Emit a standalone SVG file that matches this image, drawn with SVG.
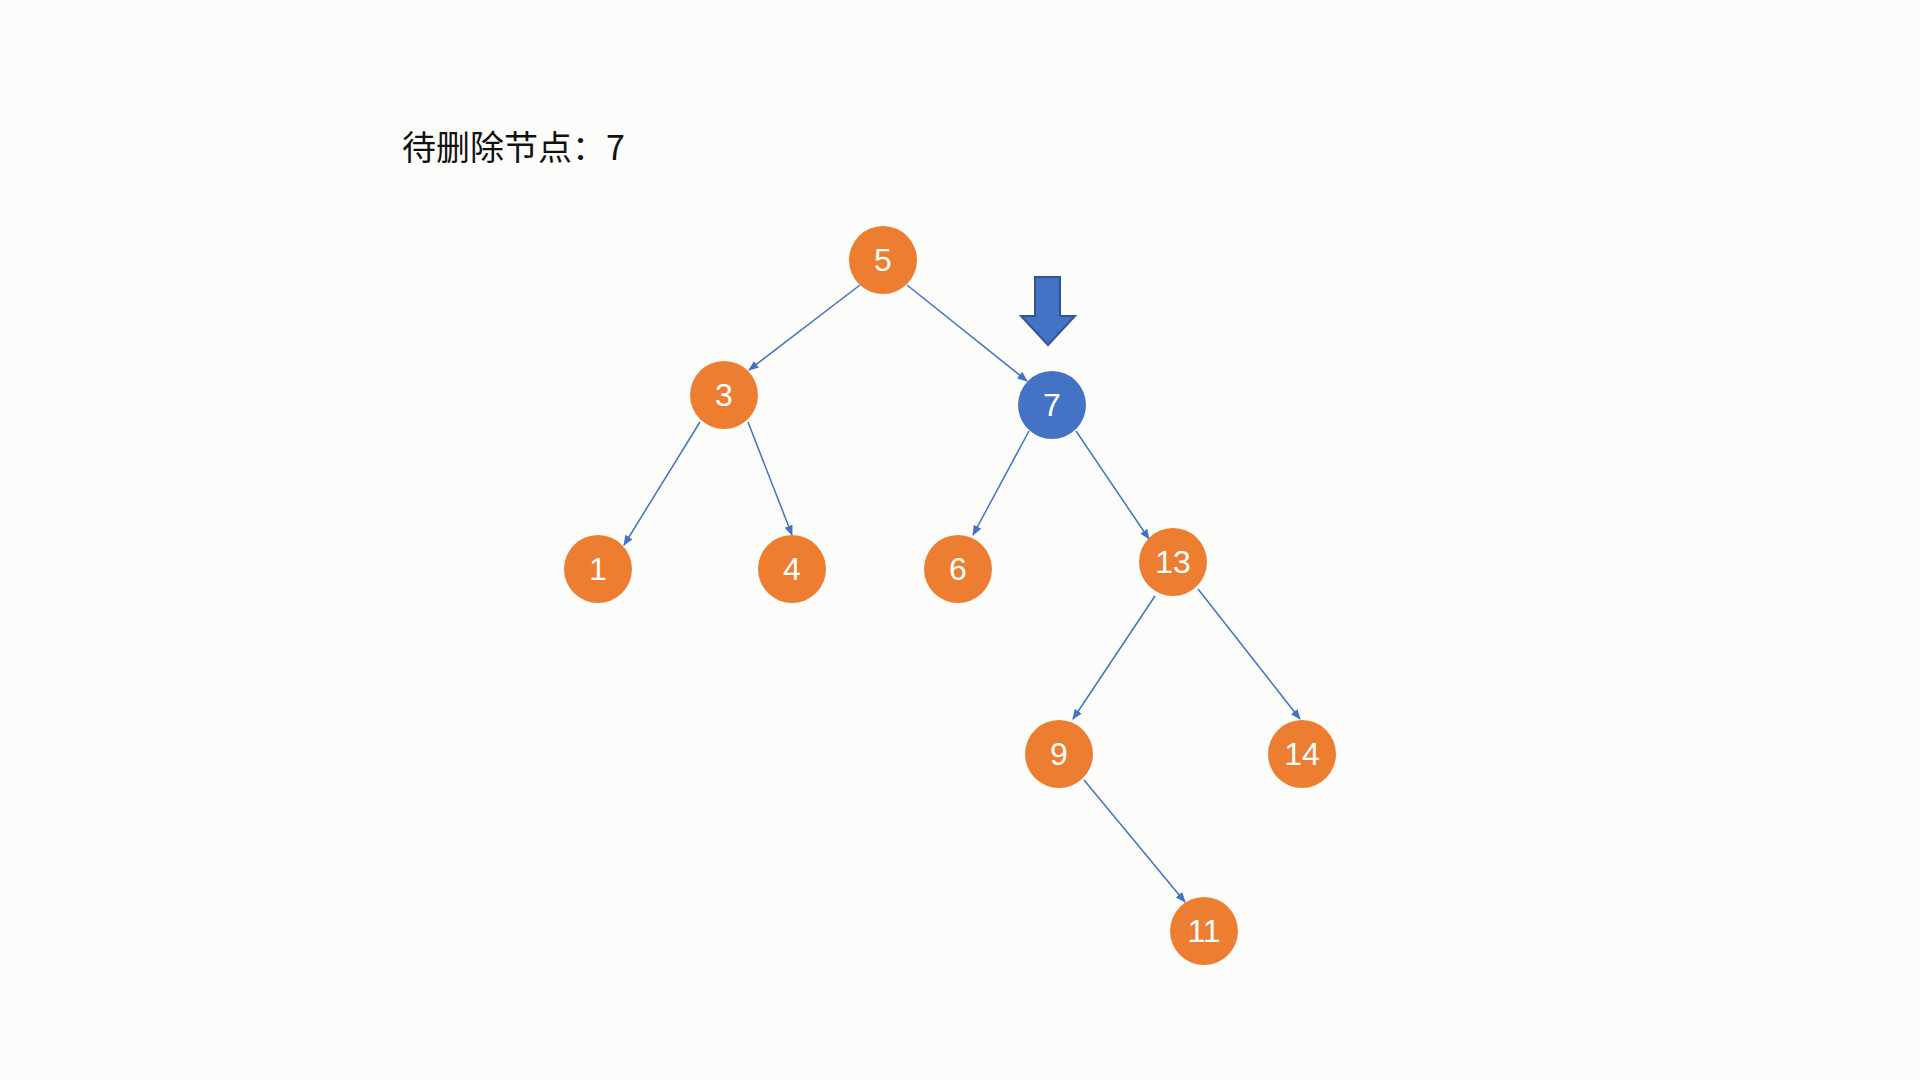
<svg xmlns="http://www.w3.org/2000/svg" width="1920" height="1080" viewBox="0 0 1920 1080">
<style>
.n{fill:#ED7D31}
.b{fill:#4472C4}
.t{fill:#fff;font-family:"Liberation Sans",Arial,sans-serif;font-size:32px;text-anchor:middle;dominant-baseline:central}
.e{stroke:#4472C4;stroke-width:1.5;fill:none;marker-end:url(#ah)}
</style>
<defs>
<marker id="ah" viewBox="0 0 10 10" refX="9" refY="5" markerWidth="7" markerHeight="7" orient="auto"><path d="M0,1 L10,5 L0,9 z" fill="#4472C4"/></marker>
</defs>
<rect width="1920" height="1080" fill="#fcfcfa"/>
<text x="402" y="145" font-family="'Noto Sans CJK SC',sans-serif" font-size="34" dominant-baseline="central" fill="#111">待删除节点：7</text>
<path d="M1035,277 H1060 V316 H1075 L1048,345 L1021,316 H1035 Z" fill="#4472C4" stroke="#2F5597" stroke-width="2"/>
<g id="edges">
<line class="e" x1="860" y1="285" x2="749" y2="370"/>
<line class="e" x1="907" y1="285" x2="1027" y2="381"/>
<line class="e" x1="700" y1="422" x2="624" y2="545"/>
<line class="e" x1="748" y1="422" x2="792" y2="535"/>
<line class="e" x1="1029" y1="431" x2="973" y2="535"/>
<line class="e" x1="1076" y1="431" x2="1149" y2="539"/>
<line class="e" x1="1155" y1="596" x2="1073" y2="719"/>
<line class="e" x1="1198" y1="589" x2="1300" y2="719"/>
<line class="e" x1="1084" y1="780" x2="1185" y2="902"/>
</g>
<g id="n5"><circle class="n" cx="883" cy="260" r="34"/><text class="t" x="883" y="260">5</text></g>
<g id="n3"><circle class="n" cx="724" cy="395" r="34"/><text class="t" x="724" y="395">3</text></g>
<g id="n7"><circle class="b" cx="1052" cy="405" r="34"/><text class="t" x="1052" y="405">7</text></g>
<g id="n1"><circle class="n" cx="598" cy="569" r="34"/><text class="t" x="598" y="569">1</text></g>
<g id="n4"><circle class="n" cx="792" cy="569" r="34"/><text class="t" x="792" y="569">4</text></g>
<g id="n6"><circle class="n" cx="958" cy="569" r="34"/><text class="t" x="958" y="569">6</text></g>
<g id="n13"><circle class="n" cx="1173" cy="562" r="34"/><text class="t" x="1173" y="562">13</text></g>
<g id="n9"><circle class="n" cx="1059" cy="754" r="34"/><text class="t" x="1059" y="754">9</text></g>
<g id="n14"><circle class="n" cx="1302" cy="754" r="34"/><text class="t" x="1302" y="754">14</text></g>
<g id="n11"><circle class="n" cx="1204" cy="931" r="34"/><text class="t" x="1204" y="931">11</text></g>
</svg>
